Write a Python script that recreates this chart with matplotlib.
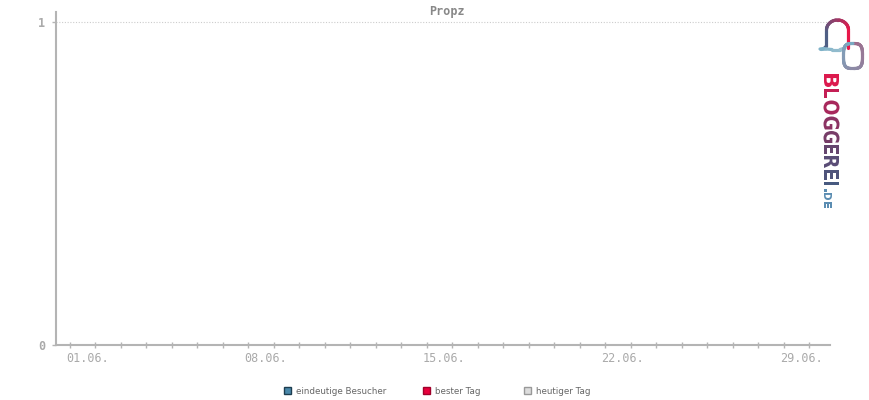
import numpy as np
import matplotlib
matplotlib.use('Agg')
import matplotlib.pyplot as plt
from matplotlib.collections import LineCollection
from matplotlib.patches import Rectangle, PathPatch
from matplotlib.textpath import TextPath
from matplotlib.font_manager import FontProperties
from matplotlib.path import Path
from matplotlib.transforms import ScaledTranslation
from matplotlib.colors import to_rgb

# Daten (Juni, keine Besucher erfasst)
tage = [1, 2, 3, 4, 5, 6, 7, 8, 9, 10, 11, 12, 13, 14, 15,
        16, 17, 18, 19, 20, 21, 22, 23, 24, 25, 26, 27, 28, 29, 30]
label_tage = [1, 8, 15, 22, 29]
tick_labels = ['01.06.', '08.06.', '15.06.', '22.06.', '29.06.']
besucher = []          # eindeutige Besucher: keine Werte
y_ticks = [0, 1]

legend_labels = ['eindeutige Besucher', 'bester Tag', 'heutiger Tag']
legend_farben = ['#4a88aa', '#e8003c', '#dddddd']
legend_rand = ['#1d3d50', '#a0002a', '#999999']

GRAU = '#b4b4b4'
TEXTGRAU = '#aaaaaa'

fig = plt.figure(figsize=(8.7, 4.0), dpi=100)
W, H = 870, 400

# Hauptachse in Pixelkoordinaten
left, right, top, bottom = 56, 830, 12, 345
ax = fig.add_axes([left / W, 1 - bottom / H, (right - left) / W, (bottom - top) / H])

px_per_day = 25.5
ax.set_xlim(1 - (70 - left) / px_per_day, 1 + (right - 70) / px_per_day)
ax.set_ylim(0, (bottom - top) / (bottom - 22))

if besucher:
    ax.bar(tage[:len(besucher)], besucher, color=legend_farben[0])

ax.axhline(1, color='#cccccc', lw=0.8, ls=(0, (1, 1.5)), zorder=0)

for s in ['top', 'right']:
    ax.spines[s].set_visible(False)
for s in ['left', 'bottom']:
    ax.spines[s].set_color(GRAU)
    ax.spines[s].set_linewidth(1.5)

ax.set_xticks(label_tage)
ax.set_xticklabels(tick_labels, family='DejaVu Sans Mono', fontsize=8.5,
                   color=TEXTGRAU, ha='left')
ax.set_xticks(tage, minor=True)
ax.tick_params(axis='x', which='both', direction='inout', length=4,
               width=1, color=GRAU, pad=3)
off = ScaledTranslation(-4 / 100, 0, fig.dpi_scale_trans)
for lab in ax.get_xticklabels():
    lab.set_transform(lab.get_transform() + off)

ax.set_yticks(y_ticks)
ax.set_yticklabels([str(v) for v in y_ticks], family='DejaVu Sans Mono',
                   fontsize=8.5, color=TEXTGRAU, fontweight='bold')
ax.tick_params(axis='y', direction='out', length=3, width=1, color=GRAU, pad=5)

# Overlay fuer Titel, Legende, Logo
ov = fig.add_axes([0, 0, 1, 1])
ov.set_xlim(0, W)
ov.set_ylim(H, 0)
ov.axis('off')

ov.text(447, 12, 'Propz', family='DejaVu Sans Mono', fontsize=8.5,
        fontweight='bold', color='#888888', ha='center', va='center')

# Legende
leg_x = [284, 423, 524]
for x, lab, fc, ec in zip(leg_x, legend_labels, legend_farben, legend_rand):
    ov.add_patch(Rectangle((x, 387), 7, 7, facecolor=fc, edgecolor=ec, lw=1))
    ov.text(x + 12, 391, lab, fontsize=6.3, color='#666666', va='center', ha='left')

# Logo: Verlauf-Linien
def verlauf(xs, ys, c1, c2, lw=2.3):
    pts = np.column_stack([xs, ys]).reshape(-1, 1, 2)
    segs = np.concatenate([pts[:-1], pts[1:]], axis=1)
    a, b = np.array(to_rgb(c1)), np.array(to_rgb(c2))
    t = np.linspace(0, 1, len(segs))[:, None]
    ov.add_collection(LineCollection(segs, colors=a + (b - a) * t,
                                     linewidth=lw, capstyle='round'))

# Sprechblase
phi = np.linspace(np.pi, 0, 40)
arch_x = np.concatenate([[826.5, 826.5], 837.5 + 11 * np.cos(phi), [848.5, 848.5]])
arch_y = np.concatenate([[46, 30], 30 - 10 * np.sin(phi), [30, 48]])
verlauf(arch_x, arch_y, '#4f5f85', '#e8174a')
verlauf(np.array([826.5, 824, 820]), np.array([46, 48.5, 49]), '#4f5f85', '#7fb2c8')
verlauf(np.array([821, 826, 832, 840, 845]), np.array([49.5, 49, 49.5, 49.5, 48]),
        '#7fb2c8', '#9ac0d0')

# Ring
theta = np.linspace(-np.pi / 2, 1.5 * np.pi, 90)
ring_x = 853 + 9.5 * np.sign(np.cos(theta)) * np.abs(np.cos(theta)) ** 0.6
ring_y = 56 + 12.5 * np.sign(np.sin(theta)) * np.abs(np.sin(theta)) ** 0.6
verlauf(ring_x, ring_y, '#a06a8a', '#7aaac2')

# Schriftzug, Buchstaben einzeln in ihre Felder gesetzt
fp = FontProperties(family='DejaVu Sans', weight='bold')
logo_teile = [
    ('B', 74, 87, 824, 839, '#dc1a4e'),
    ('L', 89, 98, 824, 839, '#c41f55'),
    ('O', 100.5, 114.5, 823.5, 839.5, '#a8285c'),
    ('G', 116.5, 129.5, 823.5, 839.5, '#8c3363'),
    ('G', 131, 143, 823.5, 839.5, '#773d68'),
    ('E', 145, 154, 824, 839, '#66466f'),
    ('R', 156, 168, 824, 839, '#5a4d76'),
    ('E', 170, 179.5, 824, 839, '#4f547b'),
    ('I', 182, 185, 824, 839, '#485a80'),
    ('.', 188.5, 191.5, 824, 827, '#5b8db2'),
    ('D', 193, 200, 824, 832, '#5b8db2'),
    ('E', 202, 208, 824, 832, '#5b8db2'),
]
for ch, y0, y1, x0, x1, col in logo_teile:
    tp = TextPath((0, 0), ch, size=1, prop=fp)
    ext = tp.get_extents()
    v = tp.vertices
    nx = x0 + (v[:, 1] - ext.y0) / ext.height * (x1 - x0)
    ny = y0 + (v[:, 0] - ext.x0) / ext.width * (y1 - y0)
    pfad = Path(np.column_stack([nx, ny]), tp.codes)
    ov.add_patch(PathPatch(pfad, facecolor=col, edgecolor='none'))

fig.savefig('out.png', dpi=100)
